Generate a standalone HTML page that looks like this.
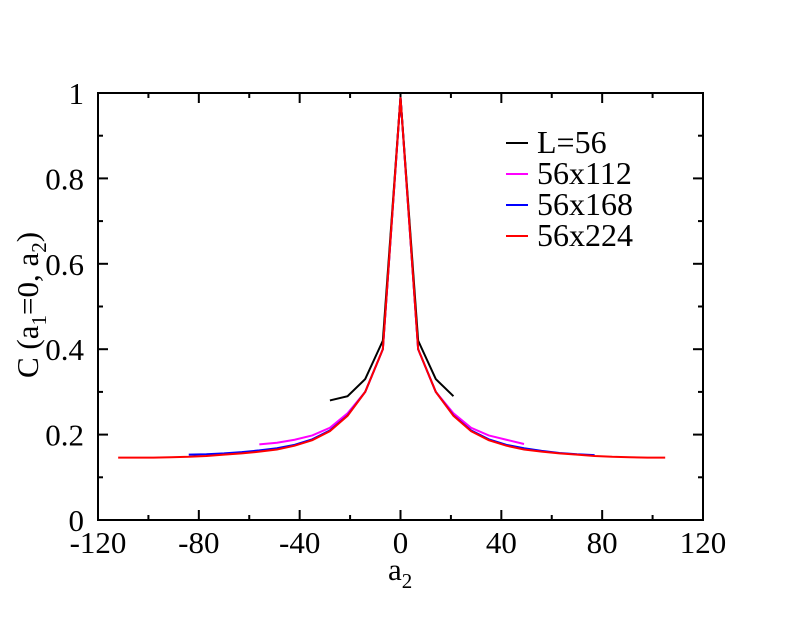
<!DOCTYPE html>
<html><head><meta charset="utf-8"><style>
body{margin:0;background:#fff}
svg text{font-family:"Liberation Serif",serif}
</style></head><body>
<svg id="chart" width="792" height="612" xmlns="http://www.w3.org/2000/svg">
<rect x="0" y="0" width="792" height="612" fill="#fff"/>
<g id="ticks"></g>
<g id="series"></g>
<rect x="98" y="93" width="605" height="427" fill="none" stroke="#000" stroke-width="2"/>
<g id="labels" font-size="31"></g>
<text x="388" y="580" font-size="31">a<tspan font-size="21" dy="8">2</tspan></text>
<text transform="translate(38,305) rotate(-90)" text-anchor="middle" font-size="31">C (a<tspan font-size="21" dy="8">1</tspan><tspan dy="-8">=0, a</tspan><tspan font-size="21" dy="8">2</tspan><tspan dy="-8">)</tspan></text>
<g id="legend" font-size="32"></g>
</svg>
<script>
const xTicks=[-120,-80,-40,0,40,80,120];
const yTicks=[0,0.2,0.4,0.6,0.8,1];
const yTickLabels=["0","0.2","0.4","0.6","0.8","1"];
const seriesNames=["L=56","56x112","56x168","56x224"];
const seriesColors=["#000000","#ff00ff","#0000ff","#ff0000"];
const xL56=[-28,-21,-14,-7,0,7,14,21];
const yL56=[0.28,0.29,0.33,0.42,0.99,0.42,0.33,0.29];
const x112=[-56,-49,-42,-35,-28,-21,-14,-7,0,7,14,21,28,35,42,49];
const y112=[0.177,0.181,0.188,0.198,0.216,0.25,0.30,0.40,0.99,0.40,0.30,0.25,0.216,0.198,0.188,0.178];
const x168=[-84,-77,-70,-63,-56,-49,-42,-35,-28,-21,-14,-7,0,7,14,21,28,35,42,49,56,63,70,77];
const y168=[0.153,0.154,0.156,0.159,0.163,0.168,0.176,0.189,0.21,0.245,0.30,0.40,0.99,0.40,0.30,0.245,0.21,0.189,0.176,0.168,0.162,0.157,0.154,0.152];
const x224=[-112,-105,-98,-91,-84,-77,-70,-63,-56,-49,-42,-35,-28,-21,-14,-7,0,7,14,21,28,35,42,49,56,63,70,77,84,91,98,105];
const y224=[0.146,0.146,0.146,0.147,0.148,0.150,0.153,0.156,0.160,0.165,0.174,0.187,0.208,0.244,0.30,0.40,0.99,0.40,0.30,0.244,0.208,0.187,0.174,0.165,0.160,0.156,0.153,0.150,0.148,0.147,0.146,0.146];
const X=v=>98+(v+120)/240*605, Y=v=>520-v*427;
const NS="http://www.w3.org/2000/svg";
function mk(t,a){const e=document.createElementNS(NS,t);for(const k in a)e.setAttribute(k,a[k]);return e;}
const tg=document.getElementById('ticks'),lg=document.getElementById('labels');
for(let v=-120;v<=120;v+=20){const major=v%40===0;const L=major?10:5;
 for(const [y0,d] of [[520,-1],[93,1]]){const l=mk('line',{x1:X(v),x2:X(v),y1:y0,y2:y0+d*L,stroke:'#000','stroke-width':2});
 
 tg.appendChild(l);}}
for(let i=0;i<=10;i++){const v=i/10;const L=i%2===0?10:5;
 for(const [x0,d] of [[98,1],[703,-1]]){const l=mk('line',{x1:x0,x2:x0+d*L,y1:Y(v),y2:Y(v),stroke:'#000','stroke-width':2});
 
 tg.appendChild(l);}}
xTicks.forEach(v=>{const t=mk('text',{x:X(v),y:553,'text-anchor':'middle'});t.textContent=String(v);
 
 lg.appendChild(t);});
yTicks.forEach((v,i)=>{const t=mk('text',{x:84,y:Y(v)+11,'text-anchor':'end'});t.textContent=yTickLabels[i];
 
 lg.appendChild(t);});
const sg=document.getElementById('series');
[[x112,y112,1],[x168,y168,2],[xL56,yL56,0],[x224,y224,3]].forEach(([xs,ys,k])=>{
 const p=mk('polyline',{points:xs.map((x,i)=>X(x)+','+Y(ys[i])).join(' '),fill:'none',stroke:seriesColors[k],'stroke-width':2});
 
 sg.appendChild(p);});
const leg=document.getElementById('legend');
seriesNames.forEach((n,i)=>{const y=153+i*31;
 const l=mk('line',{x1:506,x2:528,y1:y-10,y2:y-10,stroke:seriesColors[i],'stroke-width':2});
 
 leg.appendChild(l);
 const t=mk('text',{x:537,y:y});t.textContent=n;
 
 leg.appendChild(t);});
</script>
</body></html>
